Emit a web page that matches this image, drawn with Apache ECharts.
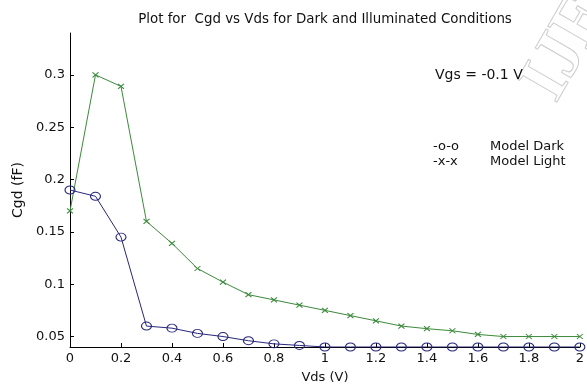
<!DOCTYPE html>
<html>
<head>
<meta charset="utf-8">
<script src="https://cdn.jsdelivr.net/npm/echarts@6/dist/echarts.min.js"></script>
<style>
    html, body { margin: 0; padding: 0; background: #fff; }
    #chart { width: 587px; height: 389px; }
</style>
</head>
<body>
<div id="chart"></div>
<script>
    // Vds (V) values
    var vds = [0, 0.1, 0.2, 0.3, 0.4, 0.5, 0.6, 0.7, 0.8, 0.9, 1.0,
        1.1, 1.2, 1.3, 1.4, 1.5, 1.6, 1.7, 1.8, 1.9, 2.0];

    // Cgd (fF), model dark
    var cgdDark = [0.19, 0.184, 0.145, 0.06, 0.058, 0.053, 0.05, 0.046, 0.043, 0.0415, 0.04,
        0.04, 0.04, 0.04, 0.04, 0.04, 0.04, 0.04, 0.04, 0.04, 0.04];

    // Cgd (fF), model light
    var cgdLight = [0.17, 0.3, 0.289, 0.16, 0.139, 0.115, 0.102, 0.09, 0.085, 0.08, 0.075,
        0.07, 0.065, 0.06, 0.0575, 0.0555, 0.052, 0.05, 0.05, 0.05, 0.05];

    var yTicks = [0.05, 0.1, 0.15, 0.2, 0.25, 0.3];

    var darkColor = '#27277a',
        lightColor = '#3c8a3c',
        fontFamily = '"DejaVu Sans", sans-serif';

    var pair = function (xs, ys) {
        var out = [], i;
        for (i = 0; i < xs.length; i++) {
            out.push([xs[i], ys[i]]);
        }
        return out;
    };

    var chart = echarts.init(document.getElementById('chart'), null, {renderer: 'canvas'});

    chart.setOption({
        animation: false,
        backgroundColor: '#fff',
        grid: {left: 70, right: 5, top: 33, bottom: 34},
        xAxis: {
            type: 'value',
            min: 0,
            max: 2,
            interval: 0.2,
            name: 'Vds (V)',
            nameLocation: 'middle',
            nameGap: 24,
            nameTextStyle: {fontFamily: fontFamily, fontSize: 13, color: '#111'},
            axisLine: {lineStyle: {color: '#000', width: 1}},
            axisTick: {inside: true, length: 4, lineStyle: {color: '#000'}},
            axisLabel: {fontFamily: fontFamily, fontSize: 13, color: '#111', margin: 5},
            splitLine: {show: false}
        },
        yAxis: {
            type: 'value',
            min: 0.04,
            max: 0.34,
            name: 'Cgd (fF)',
            nameLocation: 'middle',
            nameGap: 44,
            nameTextStyle: {fontFamily: fontFamily, fontSize: 14, color: '#111'},
            axisLine: {show: true, lineStyle: {color: '#000', width: 1}},
            axisTick: {show: true, inside: true, length: 4, customValues: yTicks, lineStyle: {color: '#000'}},
            axisLabel: {fontFamily: fontFamily, fontSize: 13, color: '#111', margin: 5, customValues: yTicks},
            splitLine: {show: false}
        },
        series: [
            {
                name: 'Model Light',
                type: 'line',
                data: pair(vds, cgdLight),
                symbol: 'path://M0,0L10,10M10,0L0,10',
                symbolSize: [6, 5],
                showAllSymbol: true,
                lineStyle: {color: lightColor, width: 1},
                itemStyle: {color: lightColor, borderColor: lightColor, borderWidth: 1}
            },
            {
                name: 'Model Dark',
                type: 'line',
                data: pair(vds, cgdDark),
                symbol: 'circle',
                symbolSize: [10, 8],
                showAllSymbol: true,
                lineStyle: {color: darkColor, width: 1},
                itemStyle: {color: 'rgba(0,0,0,0)', borderColor: darkColor, borderWidth: 1}
            }
        ],
        graphic: [
            {type: 'text', x: 540, y: 95, rotation: Math.PI / 3, silent: true,
                style: {text: 'IJERT', font: 'bold 70px "Liberation Serif", serif', verticalAlign: 'middle',
                    fill: 'rgba(0,0,0,0)', stroke: '#cdcdcd', lineWidth: 1}},
            {type: 'text', x: 325, y: 20,
                style: {text: 'Plot for  Cgd vs Vds for Dark and Illuminated Conditions',
                    font: '13.4px ' + fontFamily, fill: '#111', align: 'center', verticalAlign: 'middle'}},
            {type: 'text', x: 435, y: 75,
                style: {text: 'Vgs = -0.1 V', font: '14px ' + fontFamily, fill: '#111', verticalAlign: 'middle'}},
            {type: 'text', x: 433, y: 147,
                style: {text: '-o-o', font: '13px ' + fontFamily, fill: '#111', verticalAlign: 'middle'}},
            {type: 'text', x: 433, y: 162,
                style: {text: '-x-x', font: '13px ' + fontFamily, fill: '#111', verticalAlign: 'middle'}},
            {type: 'text', x: 490, y: 147,
                style: {text: 'Model Dark', font: '13px ' + fontFamily, fill: '#111', verticalAlign: 'middle'}},
            {type: 'text', x: 490, y: 162,
                style: {text: 'Model Light', font: '13px ' + fontFamily, fill: '#111', verticalAlign: 'middle'}}
        ]
    });
</script>
</body>
</html>
